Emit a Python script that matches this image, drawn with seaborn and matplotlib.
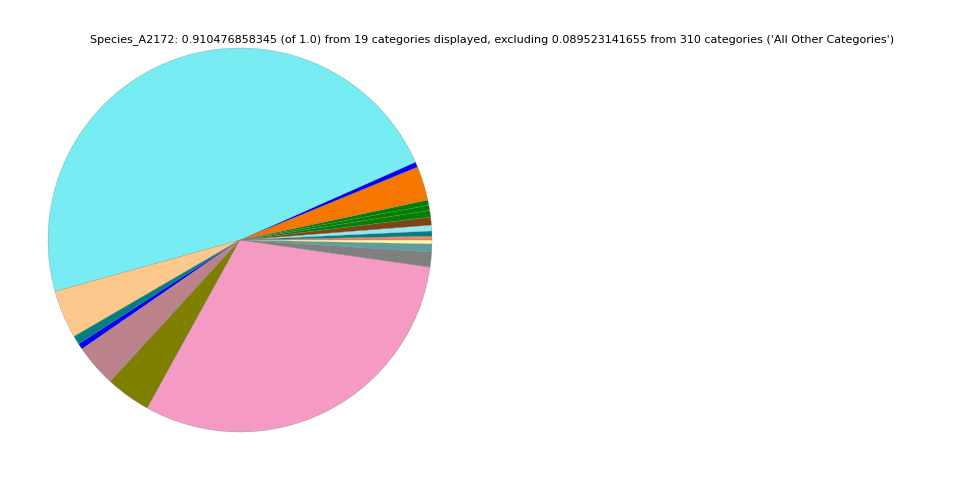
import seaborn as sns
import matplotlib.pyplot as plt

# slices in drawing order (counterclockwise from 3 o'clock)
categories = ["Cat_01", "Cat_02", "Cat_03", "Cat_04", "Cat_05", "Cat_06", "Cat_07",
              "Cat_08", "Cat_09", "Cat_10", "Cat_11", "Cat_12", "Cat_13", "Cat_14",
              "Cat_15", "Cat_16", "Cat_17", "Cat_18", "Cat_19"]
values = [0.0030, 0.0038, 0.0045, 0.0061, 0.0050, 0.0040, 0.0040, 0.0261, 0.0040,
          0.4337, 0.0369, 0.0066, 0.0046, 0.0326, 0.0344, 0.2799, 0.0114, 0.0061, 0.0030]
colors = ["#fa8072", "#008080", "#96e6f0", "#7b4614", "#008000", "#008000", "#008000",
          "#f57600", "#0000ff", "#77ecf2", "#fcc88c", "#008080", "#0000ff", "#bc828c",
          "#808000", "#f59ac3", "#808080", "#5f9ea0", "#fffaa0"]

title = ("Species_A2172: 0.910476858345 (of 1.0) from 19 categories displayed, "
         "excluding 0.089523141655 from 310 categories ('All Other Categories')")

sns.set_style("white")
plt.rcParams['font.family'] = ['DejaVu Sans']

fig = plt.figure(figsize=(9.6, 4.8), dpi=100)
ax = fig.add_axes([0, 0, 0.5, 1])
ax.pie(values, colors=colors, startangle=0, counterclock=True,
       wedgeprops=dict(edgecolor="#808080", linewidth=0.2))
ax.set_aspect("equal")

fig.text(0.5125, 0.917, title, ha="center", va="center", fontsize=8.0, color="black")

plt.savefig("out.png", dpi=100)
